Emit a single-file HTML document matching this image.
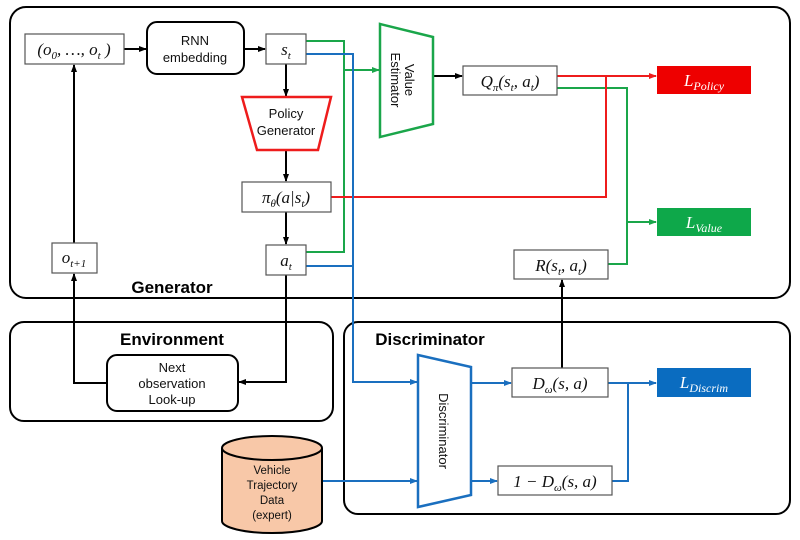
<!DOCTYPE html>
<html><head><meta charset="utf-8"><style>
html,body{margin:0;padding:0;background:#fff;}
svg{display:block;}
.s{font-family:"Liberation Sans","Noto Sans CJK KR",sans-serif;}
.m{font-family:"Liberation Serif",serif;font-style:italic;}
</style></head><body>
<svg width="800" height="540" viewBox="0 0 800 540" xmlns="http://www.w3.org/2000/svg">
<defs>
<marker id="ak" markerWidth="8" markerHeight="8" refX="7" refY="4" orient="auto" markerUnits="userSpaceOnUse"><path d="M0,1 L8,4 L0,7 z" fill="#000"/></marker>
<marker id="ag" markerWidth="8" markerHeight="8" refX="7" refY="4" orient="auto" markerUnits="userSpaceOnUse"><path d="M0,1 L8,4 L0,7 z" fill="#1aa64a"/></marker>
<marker id="ar" markerWidth="8" markerHeight="8" refX="7" refY="4" orient="auto" markerUnits="userSpaceOnUse"><path d="M0,1 L8,4 L0,7 z" fill="#ee1c1c"/></marker>
<marker id="ab" markerWidth="8" markerHeight="8" refX="7" refY="4" orient="auto" markerUnits="userSpaceOnUse"><path d="M0,1 L8,4 L0,7 z" fill="#1a6fbf"/></marker>
</defs>
<!-- containers -->
<rect x="10" y="7" width="780" height="291" rx="16" fill="none" stroke="#000" stroke-width="2"/>
<rect x="10" y="322" width="323" height="99" rx="14" fill="none" stroke="#000" stroke-width="2"/>
<rect x="344" y="322" width="446" height="192" rx="14" fill="none" stroke="#000" stroke-width="2"/>
<text x="172" y="293" class="s" font-size="17" font-weight="bold" text-anchor="middle">Generator</text>
<text x="172" y="345" class="s" font-size="17" font-weight="bold" text-anchor="middle">Environment</text>
<text x="430" y="345" class="s" font-size="17" font-weight="bold" text-anchor="middle">Discriminator</text>

<!-- black connectors -->
<g stroke="#000" stroke-width="2" fill="none">
<line x1="124" y1="49" x2="146" y2="49" marker-end="url(#ak)"/>
<line x1="244" y1="49" x2="265" y2="49" marker-end="url(#ak)"/>
<line x1="286" y1="64" x2="286" y2="96" marker-end="url(#ak)"/>
<line x1="286" y1="150" x2="286" y2="181" marker-end="url(#ak)"/>
<line x1="286" y1="212" x2="286" y2="244" marker-end="url(#ak)"/>
<line x1="74" y1="243" x2="74" y2="65" marker-end="url(#ak)"/>
<polyline points="107,383 74,383 74,274" marker-end="url(#ak)"/>
<polyline points="286,275 286,382 239,382" marker-end="url(#ak)"/>
<line x1="433" y1="76" x2="462" y2="76" marker-end="url(#ak)"/>
<line x1="562" y1="368" x2="562" y2="280" marker-end="url(#ak)"/>
</g>
<!-- green -->
<g stroke="#1aa64a" stroke-width="2" fill="none">
<polyline points="306,41 344,41 344,252 306,252"/>
<line x1="344" y1="70" x2="379" y2="70" marker-end="url(#ag)"/>
<polyline points="557,88 627,88 627,264 608,264"/>
<line x1="627" y1="222" x2="656" y2="222" marker-end="url(#ag)"/>
</g>
<!-- red -->
<g stroke="#ee1c1c" stroke-width="2" fill="none">
<line x1="557" y1="76" x2="656" y2="76" marker-end="url(#ar)"/>
<polyline points="331,197 606,197 606,76"/>
</g>
<!-- blue -->
<g stroke="#1a6fbf" stroke-width="2" fill="none">
<polyline points="306,54 353,54 353,382 417,382" marker-end="url(#ab)"/>
<line x1="306" y1="266" x2="353" y2="266"/>
<line x1="322" y1="481" x2="417" y2="481" marker-end="url(#ab)"/>
<line x1="471" y1="383" x2="511" y2="383" marker-end="url(#ab)"/>
<line x1="471" y1="481" x2="497" y2="481" marker-end="url(#ab)"/>
<line x1="608" y1="383" x2="656" y2="383" marker-end="url(#ab)"/>
<polyline points="612,481 628,481 628,383"/>
</g>

<!-- nodes -->
<g stroke="#555" stroke-width="1.2" fill="#fff">
<rect x="25" y="34" width="99" height="30"/>
<rect x="266" y="34" width="40" height="30"/>
<rect x="242" y="182" width="89" height="30"/>
<rect x="266" y="245" width="40" height="30"/>
<rect x="52" y="243" width="45" height="30"/>
<rect x="463" y="66" width="94" height="29"/>
<rect x="514" y="250" width="94" height="29"/>
<rect x="512" y="368" width="96" height="29"/>
<rect x="498" y="466" width="114" height="29"/>
</g>
<rect x="147" y="22" width="97" height="52" rx="10" fill="#fff" stroke="#000" stroke-width="2"/>
<rect x="107" y="355" width="131" height="56" rx="10" fill="#fff" stroke="#000" stroke-width="2"/>
<polygon points="242,97 331,97 318,150 257,150" fill="#fff" stroke="#ee1c1c" stroke-width="2.5"/>
<polygon points="380,24 433,37 433,124 380,137" fill="#fff" stroke="#1aa64a" stroke-width="2.5"/>
<polygon points="418,355 471,367 471,495 418,507" fill="#fff" stroke="#1a6fbf" stroke-width="2.5"/>
<!-- cylinder -->
<path d="M222,448 L222,521 A50,12 0 0 0 322,521 L322,448" fill="#f8c8a8" stroke="#000" stroke-width="2"/>
<ellipse cx="272" cy="448" rx="50" ry="12" fill="#f8c8a8" stroke="#000" stroke-width="2"/>

<rect x="657" y="66" width="94" height="28" fill="#ee0000"/>
<rect x="657" y="208" width="94" height="28" fill="#0ea84a"/>
<rect x="657" y="368" width="94" height="29" fill="#0a6cc0"/>

<!-- text -->
<g class="s" font-size="13" text-anchor="middle" fill="#111">
<text x="195" y="45">RNN</text><text x="195" y="62">embedding</text>
<text x="286" y="118">Policy</text><text x="286" y="135">Generator</text>
<text x="172" y="372">Next</text><text x="172" y="388">observation</text><text x="172" y="404">Look-up</text>
<text x="272" y="474" font-size="11.5">Vehicle</text><text x="272" y="489" font-size="11.5">Trajectory</text><text x="272" y="504" font-size="11.5">Data</text><text x="272" y="519" font-size="11.5">(expert)</text>
<text transform="translate(409,80) rotate(90)" y="4" font-size="13">Value</text>
<text transform="translate(395,80) rotate(90)" y="4" font-size="13">Estimator</text>
<text transform="translate(444,431) rotate(90)" y="5" font-size="13">Discriminator</text>
</g>
<g class="m" font-size="17" text-anchor="middle" fill="#111">
<text x="74" y="55">(<tspan>o</tspan><tspan font-size="11" dy="4">0</tspan><tspan dy="-4">, …, o</tspan><tspan font-size="11" dy="4">t</tspan><tspan dy="-4"> )</tspan></text>
<text x="286" y="55">s<tspan font-size="11" dy="4">t</tspan></text>
<text x="286" y="203">π<tspan font-size="11" dy="4">θ</tspan><tspan dy="-4">(a|s</tspan><tspan font-size="11" dy="4">t</tspan><tspan dy="-4">)</tspan></text>
<text x="286" y="266">a<tspan font-size="11" dy="4">t</tspan></text>
<text x="74" y="263">o<tspan font-size="11" dy="4">t+1</tspan></text>
<text x="510" y="87">Q<tspan font-size="11" dy="4">π</tspan><tspan dy="-4">(s</tspan><tspan font-size="11" dy="4">t</tspan><tspan dy="-4">, a</tspan><tspan font-size="11" dy="4">t</tspan><tspan dy="-4">)</tspan></text>
<text x="561" y="271">R(s<tspan font-size="11" dy="4">t</tspan><tspan dy="-4">, a</tspan><tspan font-size="11" dy="4">t</tspan><tspan dy="-4">)</tspan></text>
<text x="560" y="389">D<tspan font-size="11" dy="4">ω</tspan><tspan dy="-4">(s, a)</tspan></text>
<text x="555" y="487">1 − D<tspan font-size="11" dy="4">ω</tspan><tspan dy="-4">(s, a)</tspan></text>
</g>
<g class="m" font-size="17" text-anchor="middle" fill="#fff">
<text x="704" y="86">L<tspan font-size="12" dy="4">Policy</tspan></text>
<text x="704" y="228">L<tspan font-size="12" dy="4">Value</tspan></text>
<text x="704" y="388">L<tspan font-size="12" dy="4">Discrim</tspan></text>
</g>
</svg>
</body></html>
